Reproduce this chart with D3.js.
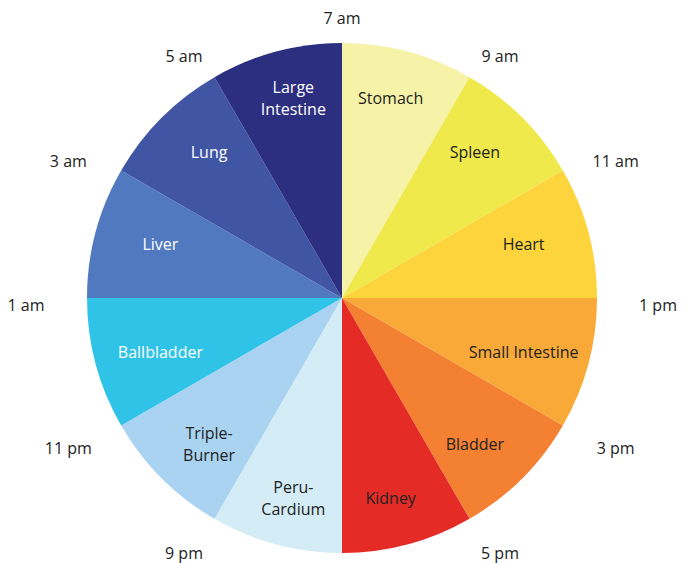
<!DOCTYPE html>
<html>
<head>
<meta charset="utf-8">
<script src="https://cdn.jsdelivr.net/npm/d3@7"></script>
<style>
  body { margin:0; background:#fff; }
  text { font-family:"Open Sans", sans-serif; }
</style>
</head>
<body>
<div id="chart"></div>
<script>

// organ clock, clockwise from the top (7 am)
var organs = ["Stomach","Spleen","Heart","Small Intestine","Bladder","Kidney",
	"Peru-\nCardium","Triple-\nBurner","Ballbladder","Liver","Lung","Large\nIntestine"];
var hours = [2,2,2,2,2,2,2,2,2,2,2,2];
var colors = ["#f6f2a7","#efe94b","#fdd43c","#f9a938","#f48032","#e52b26",
	"#d4ecf5","#a9d3f1","#2fc3e8","#5079bf","#4155a5","#2c2e7f"];
var textColors = ["#222","#222","#222","#222","#222","#222",
	"#222","#222","#fff","#fff","#fff","#fff"];
var timeLabels = ["7 am","9 am","11 am","1 pm","3 pm","5 pm",
	"7 pm","9 pm","11 pm","1 am","3 am","5 am"];

var width = 688, height = 563;
var cx = 342, cy = 298, r = 255;

var svg = d3.select('#chart').append('svg')
	.attr('width',width)
	.attr('height',height);

var g = svg.append('g')
	.attr('transform','translate('+cx+','+cy+')');

var pie = d3.pie().sort(null).value(function(d){return d;});
var arcs = pie(hours);

var arc = d3.arc().innerRadius(0).outerRadius(r);

g.selectAll('path.slice')
	.data(arcs)
	.enter().append('path')
	.attr('class','slice')
	.attr('d',arc)
	.style('fill',function(d,i){return colors[i];})
	.style('stroke','none');

//---slice labels, on a slightly tall ellipse---
var lrx = 188, lry = 207;
var labels = g.selectAll('text.organ')
	.data(arcs)
	.enter().append('text')
	.attr('class','organ')
	.attr('transform',function(d){
		var a = (d.startAngle+d.endAngle)/2;
		return 'translate('+(lrx*Math.sin(a))+','+(-lry*Math.cos(a))+')';
	})
	.attr('text-anchor','middle')
	.style('font-size','16px')
	.style('fill',function(d,i){return textColors[i];});

labels.each(function(d,i){
	var lines = organs[i].split('\n');
	var t = d3.select(this);
	lines.forEach(function(l,j){
		t.append('tspan')
			.attr('x',0)
			.attr('dy', j==0 ? ((-(lines.length-1)*22/2)+6)+'px' : '22px')
			.text(l);
	});
});

//---time labels around the edge---
var rx = 316, ry = 287, ty = cy + 7;
var times = timeLabels.map(function(t,i){
	var a = arcs[i].startAngle;
	return {text:t, x:cx + rx*Math.sin(a), y:ty - ry*Math.cos(a)};
}).filter(function(d){return d.y < height - 8;});

svg.selectAll('text.time')
	.data(times)
	.enter().append('text')
	.attr('class','time')
	.attr('x',function(d){return d.x;})
	.attr('y',function(d){return d.y;})
	.attr('text-anchor','middle')
	.attr('dy','0.35em')
	.style('font-size','16px')
	.style('fill','#222')
	.text(function(d){return d.text;});

</script>
</body>
</html>
